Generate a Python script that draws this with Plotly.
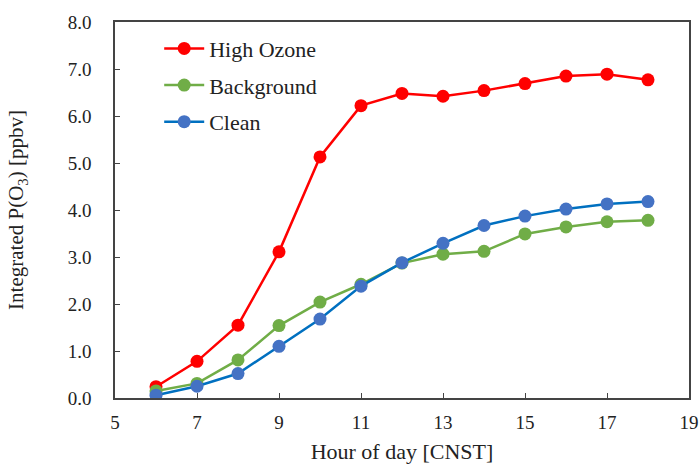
import plotly.graph_objects as go

hours = [6, 7, 8, 9, 10, 11, 12, 13, 14, 15, 16, 17, 18]
high_ozone = [0.24, 0.78, 1.55, 3.11, 5.13, 6.22, 6.48, 6.42, 6.54, 6.69, 6.85, 6.89, 6.77]
background = [0.15, 0.31, 0.81, 1.54, 2.04, 2.42, 2.87, 3.06, 3.12, 3.49, 3.64, 3.75, 3.78]
clean = [0.06, 0.25, 0.52, 1.10, 1.68, 2.38, 2.88, 3.29, 3.67, 3.87, 4.02, 4.13, 4.18]

series = [
    ("High Ozone", high_ozone, "#FF0000", "#FF0000"),
    ("Background", background, "#70AD47", "#70AD47"),
    ("Clean", clean, "#0070C0", "#4472C4"),
]

font_family = "Times New Roman"

fig = go.Figure()
for i, (name, vals, lc, mc) in enumerate(series):
    fig.add_trace(go.Scatter(
        x=hours, y=vals, name=name, mode="lines+markers",
        line=dict(color=lc, width=2.5),
        marker=dict(color=mc, size=13),
        legendgroup=f"g{i}",
    ))

fig.update_layout(
    width=699, height=464,
    margin=dict(l=115, r=10, t=22, b=66),
    paper_bgcolor="white", plot_bgcolor="white",
    font=dict(family=font_family, size=19, color="#222222"),
    showlegend=True,
    legend=dict(
        x=0.077, y=0.985, xanchor="left", yanchor="top",
        bgcolor="rgba(0,0,0,0)",
        font=dict(size=22, family=font_family, color="#222222"),
        tracegroupgap=5,
        itemwidth=40,
    ),
    xaxis=dict(
        range=[5, 19], tickvals=[5, 7, 9, 11, 13, 15, 17, 19],
        ticks="inside", ticklen=5, tickcolor="#444444",
        showline=True, linecolor="#444444", linewidth=1.5, mirror=True,
        showgrid=False, zeroline=False, automargin=False,
        title=dict(text="Hour of day [CNST]", font=dict(size=22), standoff=12),
        tickfont=dict(size=19),
        ticklabelstandoff=6,
    ),
    yaxis=dict(
        range=[0, 8], tickvals=[0, 1, 2, 3, 4, 5, 6, 7, 8],
        tickformat=".1f",
        ticks="inside", ticklen=5, tickcolor="#444444",
        showline=True, linecolor="#444444", linewidth=1.5, mirror=True,
        showgrid=False, zeroline=False, automargin=False,
        title=dict(text="Integrated P(O<sub>3</sub>) [ppbv]", font=dict(size=21), standoff=38),
        tickfont=dict(size=19),
        ticklabelstandoff=18,
    ),
)

fig.write_html("out.html")
